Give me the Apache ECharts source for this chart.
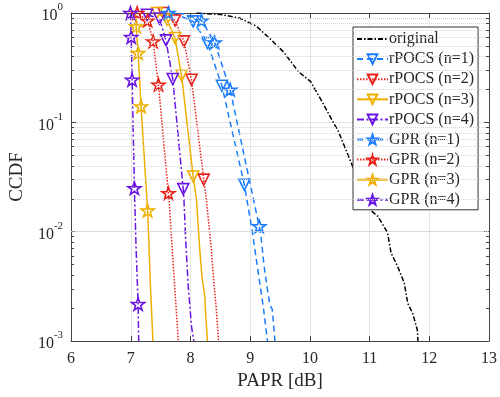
<!DOCTYPE html>
<html>
<head>
<meta charset="utf-8">
<script src="https://cdn.jsdelivr.net/npm/echarts@6/dist/echarts.min.js"></script>
<style>
  html, body { margin: 0; padding: 0; background: #fff; }
  #main { width: 500px; height: 397px; }
</style>
</head>
<body>
<div id="main"></div>
<script>
// CCDF curves, x = PAPR [dB], y = CCDF; mk = 1 where a marker is drawn
const origX = [8.10, 8.50, 8.82, 9.10, 9.32, 9.56, 9.81, 10.01, 10.20, 10.37, 10.48, 10.67, 10.85, 11.03, 11.14, 11.30, 11.36, 11.47, 11.58, 11.64, 11.72, 11.80, 11.81];
const origY = [0.999, 0.97, 0.90, 0.76, 0.59, 0.44, 0.29, 0.237, 0.156, 0.105, 0.082, 0.0455, 0.026, 0.0155, 0.0138, 0.0098, 0.0064, 0.0048, 0.0034, 0.0022, 0.0018, 0.00126, 0.001];

const rp1X = [7.70, 8.045, 8.284, 8.526, 8.902, 9.03, 9.12, 9.217, 9.29];
const rp1Y = [1.0, 0.838, 0.532, 0.216, 0.0269, 0.0105, 0.0048, 0.0021, 0.001];
const rp1M = [0, 1, 1, 1, 1, 0, 0, 0, 0];

const rp2X = [7.547, 7.741, 7.891, 8.018, 8.222, 8.267, 8.35, 8.393, 8.433, 8.47];
const rp2Y = [1.0, 0.855, 0.55, 0.245, 0.0299, 0.0195, 0.0068, 0.0034, 0.00195, 0.001];
const rp2M = [1, 1, 1, 1, 1, 0, 0, 0, 0, 0];

const rp3X = [7.44, 7.604, 7.741, 7.852, 8.045, 8.101, 8.156, 8.194, 8.239, 8.25, 8.284];
const rp3Y = [1.0, 0.87, 0.59, 0.267, 0.032, 0.0195, 0.0068, 0.0038, 0.0026, 0.00195, 0.001];
const rp3M = [1, 1, 1, 1, 1, 0, 0, 0, 0, 0, 0];

const rp4X = [7.272, 7.481, 7.59, 7.703, 7.879, 7.891, 7.919, 7.962, 8.018, 8.056];
const rp4Y = [0.965, 0.89, 0.562, 0.249, 0.0245, 0.0195, 0.0085, 0.0032, 0.00135, 0.001];
const rp4M = [1, 1, 1, 1, 1, 0, 0, 0, 0, 0];

const gp1X = [7.63, 7.90, 8.184, 8.405, 8.665, 9.151, 9.18, 9.234, 9.29, 9.33, 9.37, 9.415];
const gp1Y = [1.0, 0.98, 0.855, 0.538, 0.199, 0.0112, 0.0091, 0.0048, 0.00295, 0.00214, 0.00195, 0.001];
const gp1M = [1, 0, 1, 1, 1, 1, 0, 0, 0, 0, 0, 0];

const gp2X = [7.106, 7.282, 7.375, 7.464, 7.63, 7.642, 7.713, 7.796];
const gp2Y = [1.0, 0.855, 0.55, 0.221, 0.0225, 0.0195, 0.0048, 0.001];
const gp2M = [1, 1, 1, 1, 1, 0, 0, 0];

const gp3X = [7.08, 7.09, 7.123, 7.172, 7.282, 7.298, 7.327, 7.371];
const gp3Y = [1.0, 0.754, 0.43, 0.14, 0.0156, 0.0097, 0.0034, 0.001];
const gp3M = [0, 1, 1, 1, 1, 0, 0, 0];

const gp4X = [6.995, 7.007, 7.023, 7.061, 7.09, 7.123, 7.133];
const gp4Y = [1.0, 0.603, 0.245, 0.025, 0.0068, 0.00218, 0.001];
const gp4M = [1, 1, 1, 1, 0, 1, 0];

const minorGrid = [0.002, 0.003, 0.004, 0.005, 0.006, 0.007, 0.008, 0.009,
  0.02, 0.03, 0.04, 0.05, 0.06, 0.07, 0.08, 0.09,
  0.2, 0.3, 0.4, 0.5, 0.6, 0.7, 0.8, 0.9];

const FONT = 'Liberation Serif';
const BLUE = '#1a7cff', RED = '#e8221a', ORANGE = '#eeb000', PURPLE = '#6a16e3';
const STAR = 'path://M0,-10 L2.35,-3.24 L9.51,-3.09 L3.8,1.24 L5.88,8.09 L0,4 L-5.88,8.09 L-3.8,1.24 L-9.51,-3.09 L-2.35,-3.24 Z';

function pts(xs, ys, mk) {
    return xs.map((x, i) => {
        const item = { value: [x, ys[i]] };
        if (!mk || !mk[i]) item.symbol = 'none';
        return item;
    });
}

function curve(name, xs, ys, mk, color, dash, star) {
    return {
        name: name,
        type: 'line',
        data: pts(xs, ys, mk),
        showSymbol: true,
        symbol: star ? STAR : 'triangle',
        symbolRotate: star ? 0 : 180,
        symbolKeepAspect: true,
        symbolSize: star ? 13 : 11,
        lineStyle: { color: color, width: 1.5, type: dash },
        itemStyle: { color: 'rgba(255,255,255,0)', borderColor: color, borderWidth: 1.6 },
        animation: false,
        z: 3
    };
}

const names = ['original', 'rPOCS (n=1)', 'rPOCS (n=2)', 'rPOCS (n=3)', 'rPOCS (n=4)',
    'GPR (n=1)', 'GPR (n=2)', 'GPR (n=3)', 'GPR (n=4)'];

// minor ticks on the left and right box edges (3 px long, inside)
const minorTicks = [];
minorGrid.forEach(v => {
    minorTicks.push([{ coord: [6, v] }, { coord: [6.05, v] }]);
    minorTicks.push([{ coord: [12.95, v] }, { coord: [13, v] }]);
});

const series = [
    {
        type: 'line', data: [], silent: true, z: 1,
        markLine: {
            silent: true, symbol: 'none', label: { show: false }, animation: false,
            lineStyle: { color: '#d4d4d4', type: 'dotted', width: 1 },
            data: minorGrid.map(v => ({ yAxis: v }))
        }
    },
    {
        type: 'line', data: [], silent: true, z: 4,
        markLine: {
            silent: true, symbol: 'none', label: { show: false }, animation: false,
            lineStyle: { color: '#444', type: 'solid', width: 1 },
            data: minorTicks
        }
    },
    {
        name: names[0], type: 'line', data: pts(origX, origY, null), symbol: 'none', showSymbol: false,
        lineStyle: { color: '#000', width: 1.5, type: [5, 2, 1.5, 2] }, itemStyle: { color: '#000' },
        animation: false, z: 2
    },
    curve(names[1], rp1X, rp1Y, rp1M, BLUE, [6, 4], false),
    curve(names[2], rp2X, rp2Y, rp2M, RED, [1.5, 1.5], false),
    curve(names[3], rp3X, rp3Y, rp3M, ORANGE, 'solid', false),
    curve(names[4], rp4X, rp4Y, rp4M, PURPLE, [7, 2.5, 2, 2.5], false),
    curve(names[5], gp1X, gp1Y, gp1M, BLUE, [6, 4], true),
    curve(names[6], gp2X, gp2Y, gp2M, RED, [1.5, 1.5], true),
    curve(names[7], gp3X, gp3Y, gp3M, ORANGE, 'solid', true),
    curve(names[8], gp4X, gp4Y, gp4M, PURPLE, [7, 2.5, 2, 2.5], true)
];

const axisLine = { show: true, lineStyle: { color: '#444', width: 1 } };
const yLabel = {
    fontFamily: FONT, color: '#262626', margin: 8,
    formatter: v => '{b|10}{s|' + Math.round(Math.log10(v)) + '}',
    rich: {
        b: { fontFamily: FONT, fontSize: 16, color: '#262626', lineHeight: 22, verticalAlign: 'bottom' },
        s: { fontFamily: FONT, fontSize: 11, color: '#262626', lineHeight: 12, verticalAlign: 'top' }
    }
};

const chart = echarts.init(document.getElementById('main'), null, { renderer: 'canvas' });
chart.setOption({
    backgroundColor: '#fff',
    animation: false,
    grid: { left: 70, right: 8, top: 13, bottom: 56, containLabel: false },
    legend: {
        data: names.map((n, i) => i === 0 ? { name: n, itemStyle: { opacity: 0 } } : n),
        orient: 'vertical',
        left: 353, top: 27,
        itemWidth: 31, itemHeight: 12, itemGap: 4.1,
        padding: [4, 4, 2, 3],
        backgroundColor: '#fff',
        borderColor: '#333', borderWidth: 1,
        textStyle: { fontFamily: FONT, fontSize: 16, color: '#262626', padding: [0, 0, 0, -4] }
    },
    xAxis: [
        {
            type: 'value', min: 6, max: 13, interval: 1,
            name: 'PAPR [dB]', nameLocation: 'middle', nameGap: 29,
            nameTextStyle: { fontFamily: FONT, fontSize: 19, color: '#262626' },
            axisLine: axisLine,
            axisTick: { show: true, inside: true, length: 5, lineStyle: { color: '#444' } },
            axisLabel: { fontFamily: FONT, fontSize: 16, color: '#262626', margin: 10 },
            splitLine: { show: true, lineStyle: { color: '#e4e4e4', width: 1 } }
        },
        {
            type: 'value', min: 6, max: 13, interval: 1, position: 'top',
            axisLine: axisLine,
            axisTick: { show: true, inside: true, length: 5, lineStyle: { color: '#444' } },
            axisLabel: { show: false }, splitLine: { show: false }
        }
    ],
    yAxis: [
        {
            type: 'log', logBase: 10, min: 0.001, max: 1,
            name: 'CCDF', nameLocation: 'middle', nameGap: 42,
            nameTextStyle: { fontFamily: FONT, fontSize: 19, color: '#262626' },
            axisLine: axisLine,
            axisTick: { show: true, inside: true, length: 5, lineStyle: { color: '#444' } },
            axisLabel: yLabel,
            splitLine: { show: true, lineStyle: { color: '#e4e4e4', width: 1 } }
        },
        {
            type: 'log', logBase: 10, min: 0.001, max: 1, position: 'right',
            axisLine: axisLine,
            axisTick: { show: true, inside: true, length: 5, lineStyle: { color: '#444' } },
            axisLabel: { show: false }, splitLine: { show: false }
        }
    ],
    series: series
});
</script>
</body>
</html>
